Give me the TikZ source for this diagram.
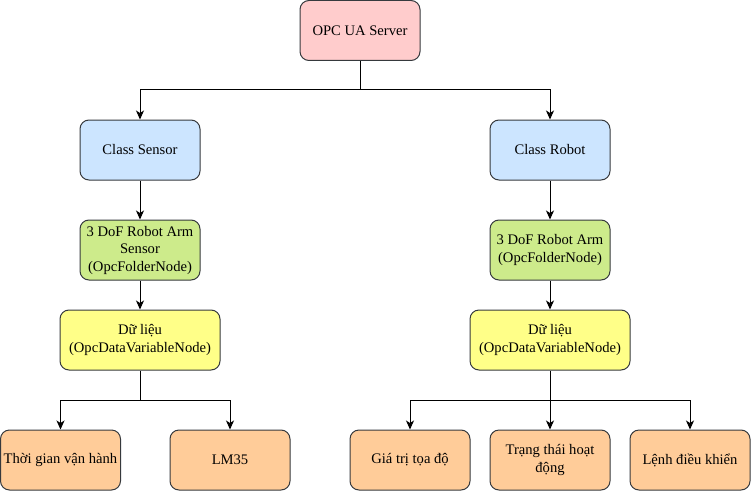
\documentclass[tikz,border=0pt]{standalone}
\usepackage{fontspec}
\setmainfont{Liberation Serif}
\usetikzlibrary{arrows.meta}
\definecolor{srv}{HTML}{FFCCCC}
\definecolor{cls}{HTML}{CCE5FF}
\definecolor{fld}{HTML}{CDEB8B}
\definecolor{dat}{HTML}{FFFF88}
\definecolor{leaf}{HTML}{FFCC99}
\definecolor{edge}{HTML}{36393D}
\begin{document}
\begin{tikzpicture}[x=1pt,y=-1pt,
  box/.style={draw=edge,line width=1pt,rounded corners=9pt,align=center,
    inner sep=0pt,font=\fontsize{14.6}{17.5}\selectfont},
  conn/.style={line width=1pt,-{Stealth[length=9pt,width=8pt,inset=2.5pt]}}]
\useasboundingbox (0,0) rectangle (751,492);
\newcommand{\bx}[6]{\node[box,fill=#6,minimum width=#4pt,minimum height=60pt] (#1) at (#2,#3) {#5};}
\bx{srv}{360}{30.5}{120}{OPC UA Server}{srv}
\bx{cs}{140}{150}{120}{Class Sensor}{cls}
\bx{cr}{550}{150}{120}{Class Robot}{cls}
\bx{fs}{140}{250}{120}{3 DoF Robot Arm\\Sensor\\(OpcFolderNode)}{fld}
\bx{fr}{550}{250}{120}{3 DoF Robot Arm\\(OpcFolderNode)}{fld}
\bx{ds}{140}{340}{160}{Dữ liệu\\(OpcDataVariableNode)}{dat}
\bx{dr}{550}{340}{160}{Dữ liệu\\(OpcDataVariableNode)}{dat}
\bx{l1}{60.5}{460}{120}{Thời gian vận hành}{leaf}
\bx{l2}{230}{460}{120}{LM35}{leaf}
\bx{r1}{410}{460}{120}{Giá trị tọa độ}{leaf}
\bx{r2}{550}{460}{120}{Trạng thái hoạt\\động}{leaf}
\bx{r3}{690}{460}{120}{Lệnh điều khiển}{leaf}
\coordinate (j0) at (360,90);
\coordinate (j1) at (140,400);
\coordinate (j2) at (550,400);
\draw[conn] (srv.south) -- (j0) -| (cs.north);
\draw[conn] (j0) -| (cr.north);
\draw[conn] (cs) -- (fs);
\draw[conn] (cr) -- (fr);
\draw[conn] (fs) -- (ds);
\draw[conn] (fr) -- (dr);
\draw[conn] (ds.south) -- (j1) -| (l1.north);
\draw[conn] (j1) -| (l2.north);
\draw[conn] (dr.south) -- (j2) -| (r1.north);
\draw[conn] (j2) -- (r2.north);
\draw[conn] (j2) -| (r3.north);
\end{tikzpicture}
\end{document}
